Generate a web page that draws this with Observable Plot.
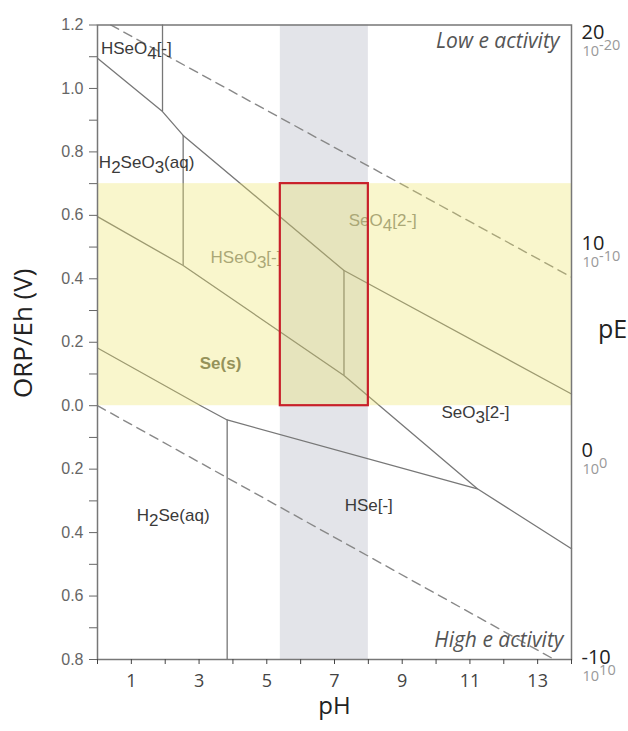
<!DOCTYPE html>
<html><head><meta charset="utf-8">
<script src="https://cdn.jsdelivr.net/npm/d3@7"></script>
<script src="https://cdn.jsdelivr.net/npm/@observablehq/plot@0.6"></script>
<style>body{margin:0;background:#fff}</style>
</head><body><div id="chart"></div>
<script>
// ---- data ----
const pHDomain = [0, 14];
const EhDomain = [-0.8, 1.2];
const pHTicks = d3.range(0, 15);
const EhTicks = d3.range(-8, 13).map(d => d / 10);

const neutralPHRange = [5.4, 8.0];
const targetEhRange = [0, 0.7];

const upperBoundaryPH = [0, 1.92, 2.53, 7.28, 14];
const upperBoundaryEh = [1.095, 0.927, 0.852, 0.426, 0.037];
const middleBoundaryPH = [0, 2.53, 7.28, 11.22, 14];
const middleBoundaryEh = [0.596, 0.442, 0.095, -0.262, -0.451];
const lowerBoundaryPH = [0, 3.05, 3.83, 11.22];
const lowerBoundaryEh = [0.182, 0.0, -0.045, -0.262];
const verticalBoundaryPH = [1.92, 2.53, 7.28, 3.83];
const verticalBoundaryEhLow = [0.927, 0.442, 0.095, -0.8];
const verticalBoundaryEhHigh = [1.2, 0.852, 0.426, -0.045];

const waterUpperPH = [0, 14];
const waterUpperEh = [1.223, 0.405];
const waterLowerPH = [0, 14];
const waterLowerEh = [0, -0.83];

const speciesNames = ["HSeO_4[-]", "H_2SeO_3(aq)", "SeO_3[2-]", "H_2Se(aq)", "HSe[-]"];
const speciesPH = [0.1, 0.04, 10.16, 1.16, 7.3];
const speciesEh = [1.127, 0.767, -0.021, -0.345, -0.315];
const bandSpeciesNames = ["HSeO_3[-]", "SeO_4[2-]"];
const bandSpeciesPH = [3.34, 7.42];
const bandSpeciesEh = [0.467, 0.584];
const solidNames = ["Se(s)"];
const solidPH = [3.02];
const solidEh = [0.133];

const pELabels = ["20", "10", "0", "-10"];
const pEActivity = ["10^-20", "10^-10", "10^0", "10^10"];
const pEPositionEh = [1.176, 0.511, -0.141, -0.794];

const pts = (xs, ys) => xs.map((x, i) => ({pH: x, Eh: ys[i]}));
const lineStroke = "#777";

const plot = Plot.plot({
  width: 628,
  height: 731,
  marginLeft: 97,
  marginRight: 57,
  marginTop: 24.5,
  marginBottom: 72,
  style: {fontFamily: "Liberation Sans, Arial, sans-serif", background: "#fff"},
  x: {domain: pHDomain},
  y: {domain: EhDomain},
  marks: [
    // neutral pH band
    Plot.rect([{x1: neutralPHRange[0], x2: neutralPHRange[1], y1: EhDomain[0], y2: EhDomain[1]}],
      {x1: "x1", x2: "x2", y1: "y1", y2: "y2", fill: "#e3e4e9"}),
    // water stability lines
    Plot.line(pts(waterUpperPH, waterUpperEh), {x: "pH", y: "Eh", stroke: "#888", strokeWidth: 1.4, strokeDasharray: "9,6", clip: true}),
    Plot.line(pts(waterLowerPH, waterLowerEh), {x: "pH", y: "Eh", stroke: "#888", strokeWidth: 1.4, strokeDasharray: "9,6", clip: true}),
    // phase boundaries
    Plot.line(pts(upperBoundaryPH, upperBoundaryEh), {x: "pH", y: "Eh", stroke: lineStroke, strokeWidth: 1.3}),
    Plot.line(pts(middleBoundaryPH, middleBoundaryEh), {x: "pH", y: "Eh", stroke: lineStroke, strokeWidth: 1.3}),
    Plot.line(pts(lowerBoundaryPH, lowerBoundaryEh), {x: "pH", y: "Eh", stroke: lineStroke, strokeWidth: 1.3}),
    Plot.ruleX(verticalBoundaryPH.map((p, i) => ({pH: p, lo: verticalBoundaryEhLow[i], hi: verticalBoundaryEhHigh[i]})),
      {x: "pH", y1: "lo", y2: "hi", stroke: lineStroke, strokeWidth: 1.3}),
    // species labels
    Plot.text(speciesNames, {x: speciesPH, y: speciesEh, text: d => d, textAnchor: "start", fontSize: 17, fill: "#3a3a3a"}),
    Plot.text(bandSpeciesNames, {x: bandSpeciesPH, y: bandSpeciesEh, text: d => d, textAnchor: "start", fontSize: 17, fill: "#8a8a80"}),
    Plot.text(solidNames, {x: solidPH, y: solidEh, text: d => d, textAnchor: "start", fontSize: 17, fontWeight: "bold", fill: "#6a6a55"}),
    // target Eh band overlay
    Plot.rect([{x1: pHDomain[0], x2: pHDomain[1], y1: targetEhRange[0], y2: targetEhRange[1]}],
      {x1: "x1", x2: "x2", y1: "y1", y2: "y2", fill: "rgb(236,229,100)", fillOpacity: 0.33}),
    // red box
    Plot.rect([{x1: neutralPHRange[0], x2: neutralPHRange[1], y1: targetEhRange[0], y2: targetEhRange[1]}],
      {x1: "x1", x2: "x2", y1: "y1", y2: "y2", fill: "none", stroke: "#c8202a", strokeWidth: 2.2}),
    Plot.frame({stroke: "#777", strokeWidth: 1.5}),
    // axes
    Plot.axisX({ticks: pHTicks, tickSize: 5, tickPadding: 10, tickFormat: d => d % 2 === 1 ? String(d) : "",
      fontSize: 18, fontFamily: "Open Sans", color: "#444", label: null}),
    Plot.axisY({ticks: EhTicks, tickSize: 8, tickPadding: 6,
      tickFormat: d => Math.round(d * 10) % 2 === 0 ? Math.abs(d).toFixed(1) : "",
      fontSize: 16, fontFamily: "Liberation Sans, Arial", color: "#666", label: null}),
    // axis titles
    Plot.text(["pH"], {frameAnchor: "bottom", dy: 54, textAnchor: "middle", fontSize: 24, fontFamily: "Open Sans", fill: "#222"}),
    Plot.text(["pE"], {frameAnchor: "right", dx: 41, dy: -12, textAnchor: "middle", fontSize: 25, fontFamily: "Open Sans", fill: "#222"}),
    Plot.text(["ORP/Eh (V)"], {frameAnchor: "left", dx: -74, dy: -9, rotate: -90, textAnchor: "middle", fontSize: 26, fontFamily: "Open Sans", fill: "#222"}),
    // right pE labels
    Plot.text(pELabels, {y: pEPositionEh, text: d => d, frameAnchor: "right", dx: 10, textAnchor: "start",
      fontSize: 20, fontFamily: "Open Sans", fill: "#222"}),
    Plot.text(pEActivity, {y: pEPositionEh, text: d => d, frameAnchor: "right", dx: 11, dy: 19, textAnchor: "start",
      fontSize: 14.5, fontFamily: "Open Sans", fill: "#999"}),
    // electron activity notes
    Plot.text(["Low e activity"], {frameAnchor: "top-right", dx: -12, dy: 16.5, textAnchor: "end", lineAnchor: "middle",
      fontSize: 21, fontStyle: "italic", fontFamily: "Open Sans", fill: "#555"}),
    Plot.text(["High e activity"], {frameAnchor: "bottom-right", dx: -8, dy: -19, textAnchor: "end", lineAnchor: "middle",
      fontSize: 21, fontStyle: "italic", fontFamily: "Open Sans", fill: "#555"})
  ]
});

// sub/superscripts
d3.select(plot).selectAll("text").each(function() {
  const t = this.textContent;
  if (!/[_^]/.test(t) || this.querySelector("tspan")) return;
  const parts = t.split(/(_\d+|\^[-\d]+)/).filter(s => s);
  const sel = d3.select(this);
  sel.text(null);
  let shifted = 0;
  for (const p of parts) {
    if (p[0] === "_") {
      sel.append("tspan").attr("dy", "0.32em").text(p.slice(1));
      shifted = 0.32;
    } else if (p[0] === "^") {
      sel.append("tspan").attr("dy", "-0.45em").text(p.slice(1));
      shifted = -0.45;
    } else {
      const ts = sel.append("tspan").text(p);
      if (shifted) ts.attr("dy", (-shifted) + "em");
      shifted = 0;
    }
  }
});

document.getElementById("chart").appendChild(plot);
</script>
</body></html>
